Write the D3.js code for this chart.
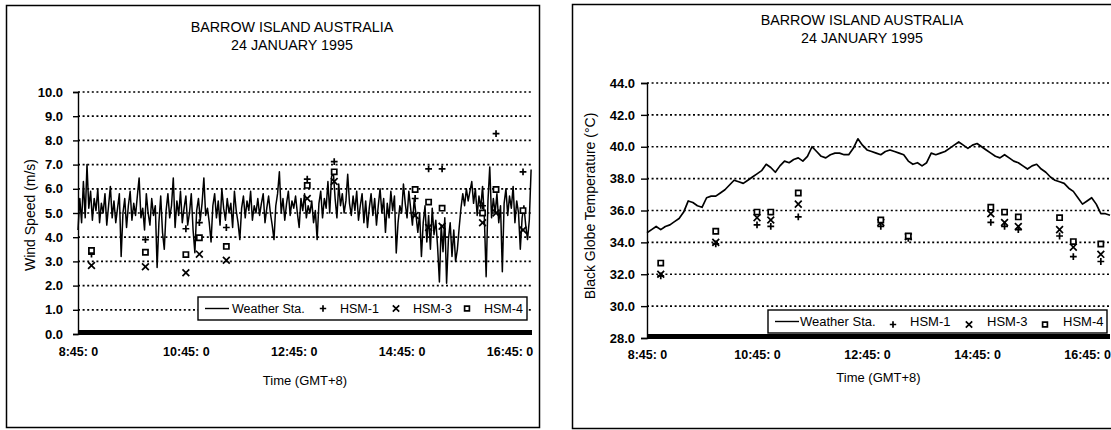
<!DOCTYPE html>
<html>
<head>
<meta charset="utf-8">
<script src="https://cdn.jsdelivr.net/npm/d3@7"></script>
<style>
  body { margin: 0; background: #fff; }
  svg { font-family: "Liberation Sans", Arial, sans-serif; }
  .grid line { stroke: #000; stroke-width: 1.7; stroke-dasharray: 2,2.6; }
  .tick text { font-weight: bold; }
</style>
</head>
<body>
<div id="charts"></div>
<script>
// x axis is minutes after 8:45, shared by both panels
var tickMinutes = [0, 120, 240, 360, 480];
var tickLabels = ["8:45: 0", "10:45: 0", "12:45: 0", "14:45: 0", "16:45: 0"];

// times of the HSM readings
var hsmTimes = ["9:00", "10:00", "10:45", "11:00", "11:30", "13:00", "13:30",
                "15:00", "15:15", "15:30", "16:15", "16:30", "17:00"];

// ---- wind speed (m/s) ----
var windTicks = [0, 1, 2, 3, 4, 5, 6, 7, 8, 9, 10];
var windHsm1 = [3.3, 3.9, 4.35, 4.6, 4.4, 6.4, 7.12, 5.6, 6.82, 6.82, 5.3, 8.28, 6.7];
var windHsm3 = [2.83, 2.78, 2.53, 3.3, 3.05, 5.6, 6.3, 4.9, 4.4, 4.45, 4.6, 5.0, 4.3];
var windHsm4 = [3.45, 3.38, 3.28, 3.98, 3.62, 6.14, 6.7, 5.97, 5.45, 5.2, 5.0, 5.97, 5.1];
// weather station, one reading every 2 minutes from 8:45
var windStation = [
  4.3, 5.6, 4.6, 6.3, 4.8, 7.0, 5.2, 5.9, 4.7, 5.6,
  5.1, 6.0, 4.6, 5.4, 5.0, 5.8, 4.5, 5.3, 6.1, 4.8,
  5.5, 4.6, 5.2, 5.8, 3.2, 5.0, 5.6, 4.4, 5.3, 5.9,
  4.7, 5.4, 4.9, 5.7, 6.45, 4.8, 5.2, 4.3, 5.8, 5.0,
  4.5, 5.6, 4.9, 5.3, 2.75, 4.6, 5.7, 4.2, 3.5, 5.1,
  5.8, 4.8, 5.3, 6.45, 4.4, 5.5, 4.9, 5.9, 4.6, 5.2,
  5.7, 4.5, 5.0, 5.8, 4.3, 3.36, 5.1, 5.6, 4.7, 5.4,
  6.45, 4.9, 5.2, 4.6, 3.8, 5.3, 5.8, 4.8, 5.5, 4.5,
  6.0, 5.2, 4.7, 5.6, 5.0, 5.4, 4.4, 5.9, 5.1, 4.6,
  3.9, 5.2, 5.7, 4.8, 5.5, 5.1, 5.9, 4.7, 5.3, 5.0,
  5.6, 4.9, 5.4, 5.8, 4.6, 5.2, 5.7, 5.0, 4.5, 3.9,
  5.3, 5.8, 6.7, 5.0, 5.6, 4.7, 5.4, 5.9, 4.9, 5.5,
  5.2, 5.7, 5.0, 4.4, 5.6, 5.1, 5.8, 4.8, 5.3, 5.0,
  5.5, 4.6, 5.1, 3.9, 5.4, 5.9, 4.8, 5.6, 5.2, 6.3,
  5.0, 6.5, 6.7, 5.6, 4.8, 6.2, 5.3, 5.8, 5.0, 5.5,
  6.6, 5.4, 4.9, 5.7, 5.1, 5.9, 4.7, 5.3, 5.8, 4.6,
  5.5, 4.4, 5.2, 5.8, 4.9, 5.6, 4.5, 5.3, 6.0, 5.0,
  5.6, 4.2, 5.4, 4.8, 5.9, 5.1, 5.7, 3.35, 4.6, 5.3,
  5.0, 6.2, 5.4, 4.8, 5.9, 5.2, 4.5, 5.6, 4.9, 4.2,
  5.0, 3.2, 4.6, 5.3, 3.8, 4.9, 3.5, 5.2, 4.1, 4.7,
  3.6, 2.15, 4.5, 3.4, 4.8, 2.1, 3.9, 4.6, 3.2, 4.3,
  3.0, 3.5, 4.4, 5.2, 5.8, 5.3, 6.0, 5.5, 5.9, 6.3,
  5.4, 6.0, 4.9, 5.7, 5.2, 6.1, 4.8, 2.37, 5.5, 6.9,
  4.8, 5.6, 5.0, 5.8, 4.6, 5.3, 2.57, 5.4, 6.0, 4.9,
  5.7, 5.2, 6.1, 4.6, 5.5, 5.0, 3.5, 4.8, 5.3, 4.5,
  3.9, 4.7, 6.8
];

// ---- black globe temperature (deg C) ----
var tempTicks = [28, 30, 32, 34, 36, 38, 40, 42, 44];
var tempHsm1 = [31.9, 33.9, 35.1, 35.0, 35.6, 35.0, 34.25, 35.25, 35.0, 34.8, 34.4, 33.1, 32.8];
var tempHsm3 = [32.0, 34.0, 35.55, 35.4, 36.4, 35.25, 34.35, 35.8, 35.25, 35.0, 34.8, 33.7, 33.25];
var tempHsm4 = [32.7, 34.7, 35.9, 35.9, 37.1, 35.4, 34.4, 36.2, 35.9, 35.6, 35.55, 34.05, 33.9];
// weather station, one reading every 5 minutes from 8:45
var tempStation = [
  34.6, 34.8, 35.0, 34.8, 35.0, 35.1, 35.3, 35.5, 35.9, 36.6,
  36.5, 36.3, 36.2, 36.8, 36.9, 36.9, 37.1, 37.3, 37.6, 37.9,
  37.8, 37.7, 37.9, 38.1, 38.3, 38.5, 38.9, 38.7, 38.4, 38.8,
  39.1, 39.0, 39.2, 39.3, 39.1, 39.4, 40.0, 39.7, 39.4, 39.3,
  39.5, 39.6, 39.6, 39.5, 39.5, 39.9, 40.5, 40.1, 39.8, 39.7,
  39.6, 39.5, 39.7, 39.8, 39.7, 39.6, 39.5, 39.1, 38.9, 39.0,
  38.8, 39.0, 39.6, 39.5, 39.6, 39.7, 39.9, 40.1, 40.3, 40.1,
  39.9, 40.1, 40.2, 40.0, 39.8, 39.6, 39.4, 39.3, 39.5, 39.3,
  39.1, 39.0, 38.8, 38.6, 38.8, 38.9, 38.6, 38.4, 38.1, 37.9,
  37.8, 37.7, 37.4, 37.2, 36.8, 36.4, 36.6, 36.8, 36.4, 35.8,
  35.8, 35.7
];

var legendNames = ["Weather Sta.", "HSM-1", "HSM-3", "HSM-4"];
var titleLines = ["BARROW ISLAND AUSTRALIA", "24 JANUARY 1995"];

function toMinutes(s) {
  var p = s.split(":");
  return (+p[0]) * 60 + (+p[1]) - (8 * 60 + 45);
}

var svg = d3.select("#charts").append("svg")
  .attr("width", 1111)
  .attr("height", 430);

function markerPath(kind, s) {
  if (kind === "plus") return `M${-s},0H${s}M0,${-s}V${s}`;
  if (kind === "cross") return `M${-s},${-s}L${s},${s}M${-s},${s}L${s},${-s}`;
  return `M${-s},${-s}H${s}V${s}H${-s}Z`;
}

function drawPanel(cfg) {
  var g = svg.append("g");

  // outer frame
  g.append("rect")
    .attr("x", cfg.frame[0]).attr("y", cfg.frame[1])
    .attr("width", cfg.frame[2]).attr("height", cfg.frame[3])
    .attr("fill", "none").attr("stroke", "#000").attr("stroke-width", 1.5);

  var x = d3.scaleLinear().domain([0, 505]).range([cfg.left, cfg.right]);
  var y = d3.scaleLinear().domain([cfg.ticks[0], cfg.ticks[cfg.ticks.length - 1]])
    .range([cfg.bottom, cfg.top]);

  // dotted gridlines
  g.append("g").attr("class", "grid").selectAll("line")
    .data(cfg.ticks.slice(1))
    .enter().append("line")
    .attr("x1", cfg.left).attr("x2", cfg.right)
    .attr("y1", d => y(d)).attr("y2", d => y(d));

  // y axis
  var yAxis = g.append("g")
    .attr("transform", `translate(${cfg.left},0)`)
    .call(d3.axisLeft(y).tickValues(cfg.ticks).tickFormat(d3.format(".1f"))
      .tickSize(cfg.tickSize).tickPadding(cfg.tickPad));
  yAxis.selectAll("text").attr("font-size", 13).attr("fill", "#000");
  yAxis.selectAll("line, path").attr("stroke", "#000").attr("stroke-width", 1.4);

  // x axis labels (no visible tick marks)
  var xAxis = g.append("g")
    .attr("transform", `translate(0,${cfg.bottom})`)
    .call(d3.axisBottom(x).tickValues(tickMinutes).tickFormat((d, i) => tickLabels[i])
      .tickSize(0).tickPadding(cfg.xPad));
  xAxis.select(".domain").remove();
  xAxis.selectAll("text").attr("font-size", 12.5).attr("fill", "#000");

  // thick bottom axis bar
  g.append("line")
    .attr("x1", cfg.left).attr("x2", cfg.right)
    .attr("y1", cfg.bottom - 1.5).attr("y2", cfg.bottom - 1.5)
    .attr("stroke", "#000").attr("stroke-width", 5);

  // weather station line
  var line = d3.line()
    .x((d, i) => x(i * cfg.step))
    .y(d => y(d));
  g.append("path")
    .datum(cfg.station)
    .attr("d", line)
    .attr("fill", "none")
    .attr("stroke", "#000")
    .attr("stroke-width", cfg.lineWidth)
    .attr("stroke-linejoin", "round");

  // HSM readings
  var series = [
    { kind: "plus", vals: cfg.hsm1 },
    { kind: "cross", vals: cfg.hsm3 },
    { kind: "square", vals: cfg.hsm4 }
  ];
  series.forEach(function(s) {
    g.append("g").selectAll("path")
      .data(s.vals)
      .enter().append("path")
      .attr("transform", (d, i) => `translate(${x(toMinutes(hsmTimes[i]))},${y(d)})`)
      .attr("d", markerPath(s.kind, s.kind === "square" ? 2.6 : 3.4))
      .attr("fill", s.kind === "square" ? "#fff" : "none")
      .attr("stroke", "#000")
      .attr("stroke-width", 1.7);
  });

  // titles
  g.selectAll(".ttl")
    .data(titleLines)
    .enter().append("text")
    .attr("x", cfg.titleX)
    .attr("y", (d, i) => cfg.titleY + i * 17.5)
    .attr("text-anchor", "middle")
    .attr("font-size", 14.3)
    .text(d => d);

  g.append("text")
    .attr("transform", `translate(${cfg.yLabelX},${cfg.yLabelY}) rotate(-90)`)
    .attr("text-anchor", "middle")
    .attr("font-size", 14)
    .text(cfg.yLabel);

  g.append("text")
    .attr("x", (cfg.left + cfg.right) / 2)
    .attr("y", cfg.xLabelY)
    .attr("text-anchor", "middle")
    .attr("font-size", 13)
    .text("Time (GMT+8)");

  // legend
  var L = cfg.legend;
  var lg = g.append("g").attr("transform", `translate(${L.x},${L.y})`);
  lg.append("rect")
    .attr("width", L.w).attr("height", L.h)
    .attr("fill", "#fff").attr("stroke", "#000").attr("stroke-width", 1.4);
  var cy = L.h / 2;
  lg.append("line")
    .attr("x1", 7).attr("x2", 31).attr("y1", cy).attr("y2", cy)
    .attr("stroke", "#000").attr("stroke-width", 1.4);
  var kinds = ["plus", "cross", "square"];
  kinds.forEach(function(k, i) {
    lg.append("path")
      .attr("transform", `translate(${L.marks[i]},${cy + L.markDy})`)
      .attr("d", markerPath(k, k === "square" ? 2.4 : 3.2))
      .attr("fill", "none").attr("stroke", "#000").attr("stroke-width", 1.7);
  });
  lg.selectAll("text")
    .data(legendNames)
    .enter().append("text")
    .attr("x", (d, i) => L.texts[i])
    .attr("y", cy + 4.5)
    .attr("font-size", L.font)
    .text(d => d);
}

drawPanel({
  frame: [6.5, 5.5, 533, 422],
  left: 78, right: 532, top: 92, bottom: 334,
  ticks: windTicks, tickSize: 5, tickPad: 10, xPad: 13,
  station: windStation, step: 2, lineWidth: 1.5,
  hsm1: windHsm1, hsm3: windHsm3, hsm4: windHsm4,
  titleX: 292, titleY: 32,
  yLabel: "Wind Speed (m/s)", yLabelX: 35, yLabelY: 215,
  xLabelY: 385,
  legend: { x: 198, y: 297, w: 329, h: 23, font: 12.5,
            marks: [125, 198, 269], markDy: 0, texts: [34, 142, 215, 286] }
});

drawPanel({
  frame: [572.5, 4.5, 545, 424],
  left: 647, right: 1110, top: 83, bottom: 338,
  ticks: tempTicks, tickSize: 6, tickPad: 6, xPad: 12,
  station: tempStation, step: 5, lineWidth: 1.7,
  hsm1: tempHsm1, hsm3: tempHsm3, hsm4: tempHsm4,
  titleX: 862, titleY: 25,
  yLabel: "Black Globe Temperature (\u00B0C)", yLabelX: 595, yLabelY: 206,
  xLabelY: 382,
  legend: { x: 768, y: 310, w: 339, h: 23, font: 13,
            marks: [125, 201, 277], markDy: 3, texts: [32, 142, 219, 295] }
});
</script>
</body>
</html>
